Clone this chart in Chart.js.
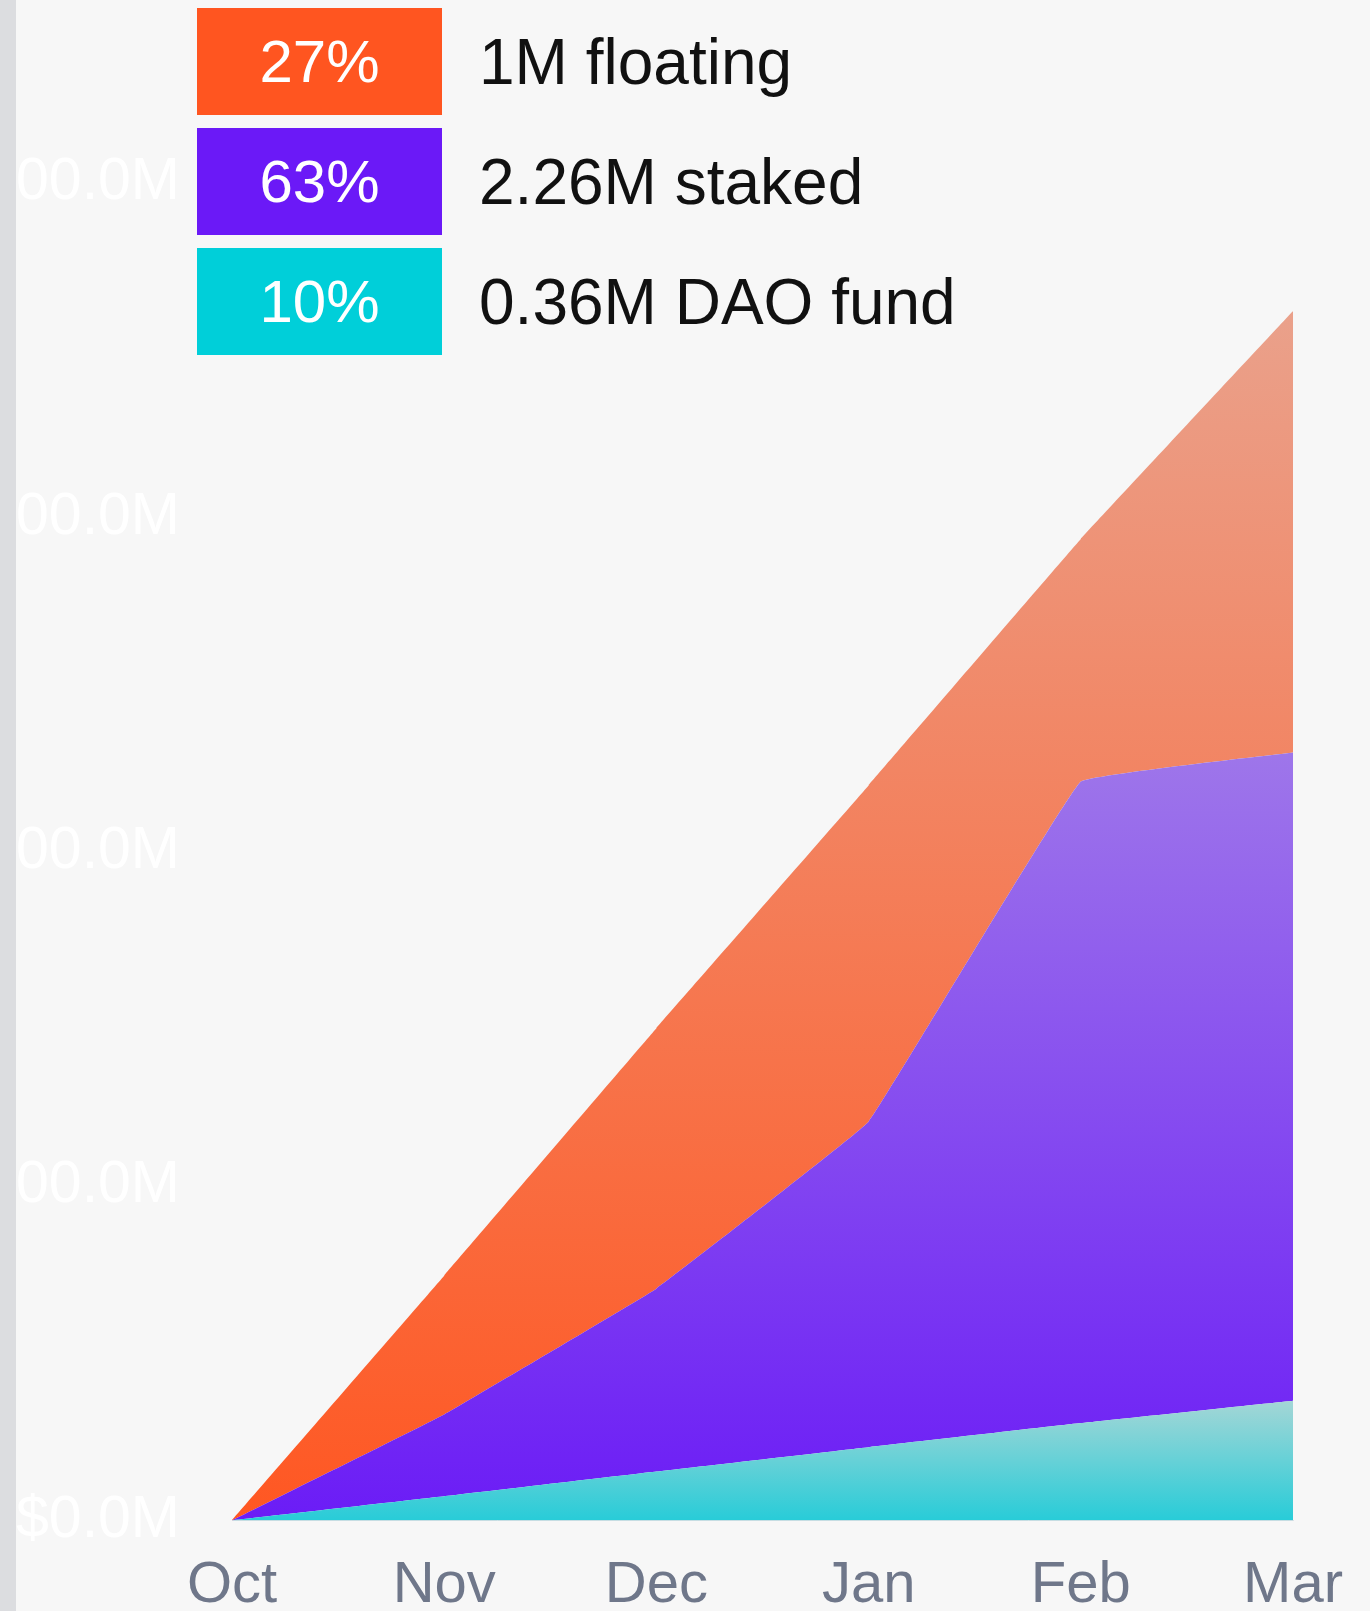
<!DOCTYPE html>
<html>
<head>
<meta charset="utf-8">
<script src="https://cdn.jsdelivr.net/npm/chart.js@4.4.1/dist/chart.umd.min.js"></script>
<style>
  html, body { margin: 0; padding: 0; background: #f7f7f7; overflow: hidden; width: 1370px; height: 1611px; }
  body { position: relative; font-family: "Liberation Sans", Arial, sans-serif; }
  .rail { position: absolute; left: 0; top: 0; width: 16px; height: 1611px; background: #dcdde0; z-index: 2; }
  .wrap { position: absolute; left: 16px; top: 0; width: 1358px; height: 1652px; }
  .legend { position: absolute; left: 197px; top: 8px; z-index: 3; }
  .row { display: flex; align-items: center; height: 107px; margin-bottom: 13px; }
  .swatch { width: 245px; height: 107px; color: #fff; font-size: 60px; display: flex; align-items: center; justify-content: center; }
  .lbl { margin-left: 37px; font-size: 64px; color: #111; white-space: nowrap; }
</style>
</head>
<body>
<div class="rail"></div>
<div class="wrap"><canvas id="supply"></canvas></div>
<div class="legend" id="legend"></div>
<script>
// Token supply split over time (stacked areas, $M)
const months = ['Oct', 'Nov', 'Dec', 'Jan', 'Feb', 'Mar'];
const daoFund = [0, 7.2, 14.6, 21.9, 29.1, 35.8];
const staked = [0, 24.5, 54.7, 97.3, 191.9, 193.9];
const floating = [0, 41.5, 77.9, 100.6, 72.5, 132.0];
const yTicks = [0, 100, 200, 300, 400];

const legendRows = [
  { pct: '27%', text: '1M floating', color: '#ff5520' },
  { pct: '63%', text: '2.26M staked', color: '#6b19f7' },
  { pct: '10%', text: '0.36M DAO fund', color: '#00cfd9' }
];

document.getElementById('legend').innerHTML = legendRows.map((r) =>
  `<div class="row"><div class="swatch" style="background:${r.color}">${r.pct}</div><div class="lbl">${r.text}</div></div>`
).join('');

const series = [daoFund, staked, floating];
const gradTop = ['#a4d6d6', '#9e76ea', '#eaa18b'];
const gradBottom = ['#28ccd8', '#6b1cf6', '#ff5722'];

// gradient runs from the top of each layer down to the x axis
function layerFill(idx) {
  return (c) => {
    const { chart } = c;
    const area = chart.chartArea;
    if (!area) return gradBottom[idx];
    let top = 0;
    months.forEach((m, i) => {
      let s = 0;
      for (let k = 0; k <= idx; k++) s += series[k][i];
      top = Math.max(top, s);
    });
    const y0 = chart.scales.y.getPixelForValue(top);
    const g = chart.ctx.createLinearGradient(0, y0, 0, area.bottom);
    g.addColorStop(0, gradTop[idx]);
    g.addColorStop(1, gradBottom[idx]);
    return g;
  };
}

Chart.defaults.font.family = '"Liberation Sans", Arial, sans-serif';

new Chart(document.getElementById('supply'), {
  type: 'line',
  data: {
    labels: months,
    datasets: [
      { label: 'DAO fund', data: daoFund, fill: 'origin', backgroundColor: layerFill(0) },
      { label: 'Staked', data: staked, fill: '-1', backgroundColor: layerFill(1) },
      { label: 'Floating', data: floating, fill: '-1', backgroundColor: layerFill(2) }
    ].map((d) => Object.assign(d, { borderWidth: 0, pointRadius: 0, tension: 0.05 }))
  },
  options: {
    responsive: true, maintainAspectRatio: false, animation: false,
    layout: { padding: { top: 183, right: 0, bottom: 0, left: 0 } },
    plugins: { legend: { display: false }, tooltip: { enabled: false } },
    scales: {
      x: {
        grid: { display: false, drawTicks: false },
        border: { display: true, color: '#dde0e5', width: 1 },
        ticks: { color: '#6f778a', font: { size: 58 }, padding: 31, maxRotation: 0 }
      },
      y: {
        stacked: true, min: 0, max: 400,
        afterFit: (s) => { s.width = 216; },
        afterBuildTicks: (s) => { s.ticks = yTicks.map((v) => ({ value: v })); },
        grid: { display: false, drawTicks: false },
        border: { display: false },
        ticks: { color: '#ffffff', font: { size: 59 }, padding: 52, callback: (v) => '$' + v.toFixed(1) + 'M' }
      }
    }
  }
});
</script>
</body>
</html>
